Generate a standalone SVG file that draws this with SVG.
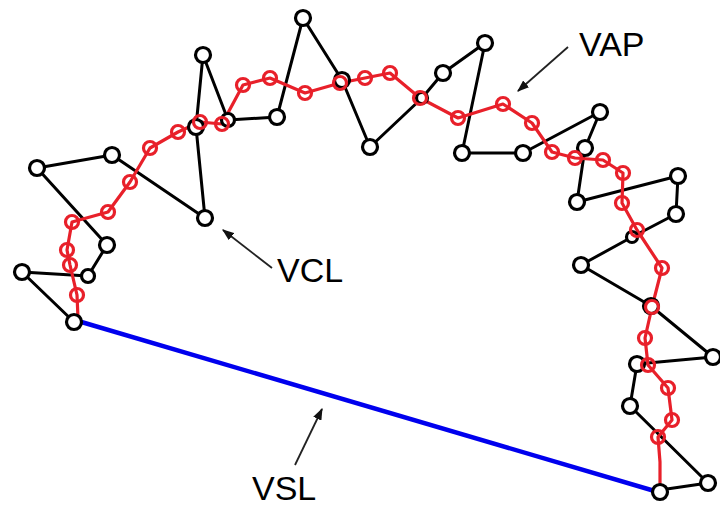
<svg xmlns="http://www.w3.org/2000/svg" width="720" height="509" viewBox="0 0 720 509">
<style>
.vcl{fill:none;stroke:#000;stroke-width:3;stroke-linejoin:round}
.pt{fill:#fff;stroke:#000;stroke-width:3.2}
.vap{fill:none;stroke:#e8202a;stroke-width:3.2;stroke-linejoin:round}
.ap{fill:none;stroke:#e8202a;stroke-width:3.2}
.vsl{stroke:#0000ee;stroke-width:4.5;fill:none}
.ptr{stroke:#222;stroke-width:1.8;fill:none;marker-end:url(#ah)}
.lbl{font-family:"Liberation Sans",Arial,sans-serif;font-size:34px;fill:#000}
</style>
<defs>
<marker id="ah" viewBox="0 0 10 10" refX="9" refY="5" markerWidth="12" markerHeight="9" markerUnits="userSpaceOnUse" orient="auto" preserveAspectRatio="none">
<path d="M0,0 L10,5 L0,10 Z" fill="#111"/>
</marker>
</defs>
<g id="connectors">
<polyline id="vcl-track" class="vcl" points="74,322 22,272 88,276 107,245 37,168 112,155 205,218 196,127 203,55 228,120 277,117 303,18 342,80 370,147 422,98 443,73 485,43 462,153 523,153 600,112 585,148 577,202 678,176 676,214 632,237 581,265 651,306 713,357 637,364 630,406 708,483 660,490"/>
<line id="vsl-line" class="vsl" x1="78" y1="321" x2="658" y2="492"/>
<polyline id="vap-track" class="vap" points="78,318 77,295 70,265 67,250 72,222 108,212 130,182 150,148 178,132 200,122 222,124 243,85 270,78 305,93 340,83 365,78 390,73 420,98 458,118 503,104 532,123 552,152 575,158 603,160 623,173 622,203 637,230 662,268 652,307 645,338 648,365 668,388 672,420 658,437 660,462 660,490"/>
<line class="ptr" x1="568" y1="47" x2="518" y2="91"/>
<line class="ptr" x1="272" y1="268" x2="223" y2="230"/>
<line class="ptr" x1="295" y1="465" x2="322" y2="409"/>
</g>
<g id="vcl-points">
<circle class="pt" cx="74" cy="322" r="7.5"/>
<circle class="pt" cx="22" cy="272" r="7.5"/>
<circle class="pt" cx="88" cy="276" r="6.5"/>
<circle class="pt" cx="107" cy="245" r="7.5"/>
<circle class="pt" cx="37" cy="168" r="7.5"/>
<circle class="pt" cx="112" cy="155" r="7.5"/>
<circle class="pt" cx="205" cy="218" r="7.5"/>
<circle class="pt" cx="196" cy="127" r="7.5"/>
<circle class="pt" cx="203" cy="55" r="7.5"/>
<circle class="pt" cx="228" cy="120" r="6.5"/>
<circle class="pt" cx="277" cy="117" r="7.5"/>
<circle class="pt" cx="303" cy="18" r="7.5"/>
<circle class="pt" cx="342" cy="80" r="7.5"/>
<circle class="pt" cx="370" cy="147" r="7.5"/>
<circle class="pt" cx="422" cy="98" r="5.5"/>
<circle class="pt" cx="443" cy="73" r="7.5"/>
<circle class="pt" cx="485" cy="43" r="7.5"/>
<circle class="pt" cx="462" cy="153" r="7.5"/>
<circle class="pt" cx="523" cy="153" r="7.5"/>
<circle class="pt" cx="600" cy="112" r="7.5"/>
<circle class="pt" cx="585" cy="148" r="7.5"/>
<circle class="pt" cx="577" cy="202" r="7.5"/>
<circle class="pt" cx="678" cy="176" r="7.5"/>
<circle class="pt" cx="676" cy="214" r="7.5"/>
<circle class="pt" cx="632" cy="237" r="5.5"/>
<circle class="pt" cx="581" cy="265" r="7.5"/>
<circle class="pt" cx="651" cy="306" r="7.5"/>
<circle class="pt" cx="713" cy="357" r="7.5"/>
<circle class="pt" cx="637" cy="364" r="7.5"/>
<circle class="pt" cx="630" cy="406" r="7.5"/>
<circle class="pt" cx="708" cy="483" r="7.5"/>
<circle class="pt" cx="660" cy="492" r="7.5"/>
</g>
<g id="vap-points">
<circle class="ap" cx="77" cy="295" r="6.5"/>
<circle class="ap" cx="70" cy="265" r="6.5"/>
<circle class="ap" cx="67" cy="250" r="6.5"/>
<circle class="ap" cx="72" cy="222" r="6.5"/>
<circle class="ap" cx="108" cy="212" r="6.5"/>
<circle class="ap" cx="130" cy="182" r="6.5"/>
<circle class="ap" cx="150" cy="148" r="6.5"/>
<circle class="ap" cx="178" cy="132" r="6.5"/>
<circle class="ap" cx="200" cy="122" r="6.5"/>
<circle class="ap" cx="222" cy="124" r="6.5"/>
<circle class="ap" cx="243" cy="85" r="6.5"/>
<circle class="ap" cx="270" cy="78" r="6.5"/>
<circle class="ap" cx="305" cy="93" r="6.5"/>
<circle class="ap" cx="340" cy="83" r="6.5"/>
<circle class="ap" cx="365" cy="78" r="6.5"/>
<circle class="ap" cx="390" cy="73" r="6.5"/>
<circle class="ap" cx="420" cy="98" r="6.5"/>
<circle class="ap" cx="458" cy="118" r="6.5"/>
<circle class="ap" cx="503" cy="104" r="6.5"/>
<circle class="ap" cx="532" cy="123" r="6.5"/>
<circle class="ap" cx="552" cy="152" r="6.5"/>
<circle class="ap" cx="575" cy="158" r="6.5"/>
<circle class="ap" cx="603" cy="160" r="6.5"/>
<circle class="ap" cx="623" cy="173" r="6.5"/>
<circle class="ap" cx="622" cy="203" r="6.5"/>
<circle class="ap" cx="637" cy="230" r="6.5"/>
<circle class="ap" cx="662" cy="268" r="6.5"/>
<circle class="ap" cx="652" cy="307" r="6.5"/>
<circle class="ap" cx="645" cy="338" r="6.5"/>
<circle class="ap" cx="648" cy="365" r="6.5"/>
<circle class="ap" cx="668" cy="388" r="6.5"/>
<circle class="ap" cx="672" cy="420" r="6.5"/>
<circle class="ap" cx="658" cy="437" r="6.5"/>
</g>
<g id="label-vap"><text class="lbl" x="579" y="56">VAP</text></g>
<g id="label-vcl"><text class="lbl" x="277" y="282">VCL</text></g>
<g id="label-vsl"><text class="lbl" x="252" y="500">VSL</text></g>
</svg>
